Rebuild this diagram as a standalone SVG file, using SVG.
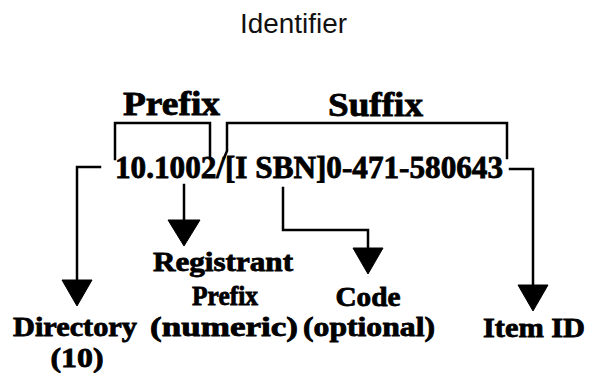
<svg xmlns="http://www.w3.org/2000/svg" width="590" height="373" viewBox="0 0 590 373">
<style>
.t{font-family:"Liberation Serif","Times New Roman",serif;font-weight:bold;fill:#000;stroke:#000;stroke-width:0.8}
.ttl{font-family:"Liberation Sans",Arial,sans-serif;font-size:27px;fill:#111}
.ln{fill:none;stroke:#000;stroke-width:2.5;stroke-linecap:square;stroke-linejoin:miter}
.ah{fill:#000;stroke:#000;stroke-width:1}
</style>
<rect width="590" height="373" fill="#fff"/>
<text class="ttl" x="240" y="33" textLength="107" lengthAdjust="spacingAndGlyphs">Identifier</text>

<g id="prefix">
<text class="t" x="123" y="115" font-size="34" textLength="97" lengthAdjust="spacingAndGlyphs">Prefix</text>
</g>
<g id="suffix">
<text class="t" x="328" y="116" font-size="34" textLength="95" lengthAdjust="spacingAndGlyphs">Suffix</text>
</g>
<g id="doi">
<text class="t" x="115" y="178" font-size="31" textLength="388" lengthAdjust="spacingAndGlyphs">10.1002/[I SBN]0-471-580643</text>
</g>
<g id="directory">
<text class="t" x="75" y="336" font-size="27" text-anchor="middle" textLength="124" lengthAdjust="spacingAndGlyphs">Directory</text>
<text class="t" x="77" y="367" font-size="27" text-anchor="middle" textLength="53" lengthAdjust="spacingAndGlyphs">(10)</text>
</g>
<g id="registrant">
<text class="t" x="223" y="271" font-size="27" text-anchor="middle" textLength="140" lengthAdjust="spacingAndGlyphs">Registrant</text>
<text class="t" x="225" y="305" font-size="27" text-anchor="middle" textLength="66" lengthAdjust="spacingAndGlyphs">Prefix</text>
<text class="t" x="224" y="336" font-size="27" text-anchor="middle" textLength="148" lengthAdjust="spacingAndGlyphs">(numeric)</text>
</g>
<g id="code">
<text class="t" x="368" y="306" font-size="27" text-anchor="middle" textLength="65" lengthAdjust="spacingAndGlyphs">Code</text>
<text class="t" x="369" y="336" font-size="27" text-anchor="middle" textLength="132" lengthAdjust="spacingAndGlyphs">(optional)</text>
</g>
<g id="itemid">
<text class="t" x="534" y="337" font-size="27" text-anchor="middle" textLength="102" lengthAdjust="spacingAndGlyphs">Item ID</text>
</g>

<g id="connectors">
<path class="ln" d="M115,159 V123 H210 V158"/>
<path class="ln" d="M224,158 L227,151 V123 H507 V158"/>
<path class="ln" d="M100,167 H77 V282"/>
<polygon class="ah" points="62,280 92,280 77,306"/>
<path class="ln" d="M184,185 V222"/>
<polygon class="ah" points="168,220 200,220 184,246"/>
<path class="ln" d="M283,188 V230 H368 V249"/>
<polygon class="ah" points="353,248 383,248 368,274"/>
<path class="ln" d="M510,169 H533 V287"/>
<polygon class="ah" points="518,285 548,285 533,311"/>
</g>
</svg>
